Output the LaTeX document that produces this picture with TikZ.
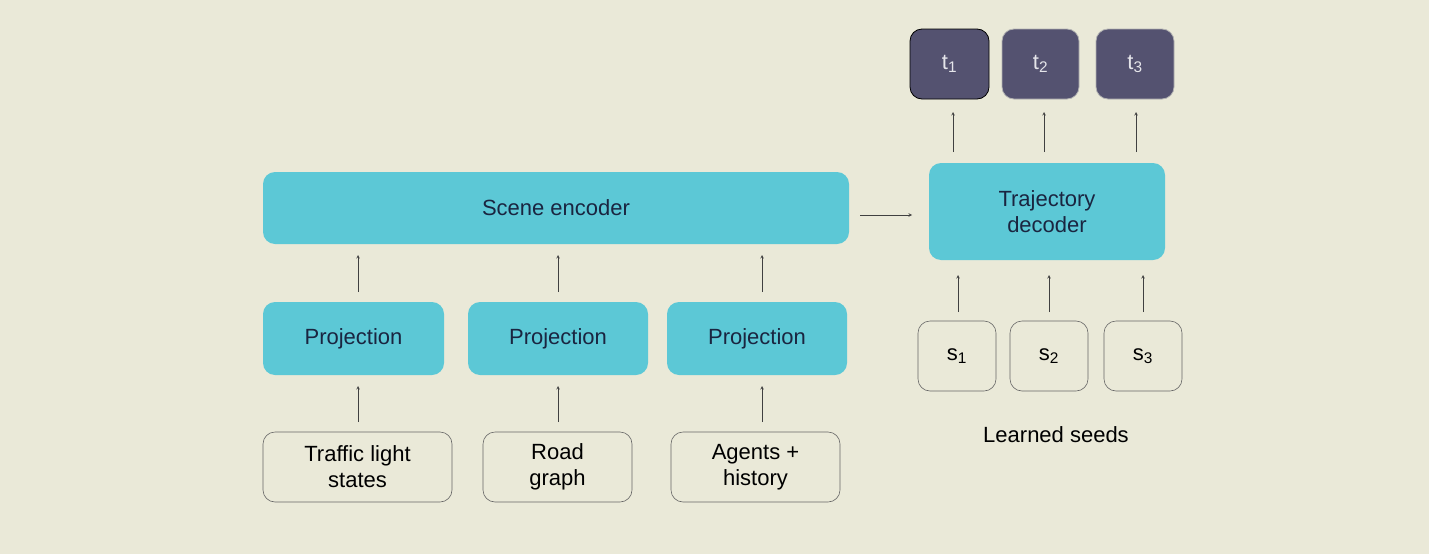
\documentclass[tikz,border=0pt]{standalone}
\usepackage{fontspec}
\setmainfont{Liberation Sans}
\begin{document}
\begin{tikzpicture}[x=1pt,y=-1pt,
 teal/.style={fill=tealc,draw=none,rounded corners=12pt,text=txt,font=\fontsize{22}{26}\selectfont,align=center},
 inp/.style={draw=gray!80!black,line width=0.6pt,rounded corners=12pt,fill=bgc,text=black,font=\fontsize{22}{26}\selectfont,align=center},
 dk/.style={fill=dkc,draw=gray!60,line width=0.8pt,rounded corners=12pt,text=white!85!dkc,font=\fontsize{22}{26}\selectfont},
 ar/.style={->,>=stealth,gray!50!black,line width=0.6pt}]
\definecolor{bgc}{HTML}{EAE9D8}
\definecolor{tealc}{HTML}{5CC8D6}
\definecolor{dkc}{HTML}{545270}
\definecolor{txt}{HTML}{1A2540}
\fill[bgc] (0,0) rectangle (1429,554);
\useasboundingbox (0,0) rectangle (1429,554);
\node[teal,minimum width=586,minimum height=72] (se) at (556,208) {Scene encoder};
\foreach \n/\x/\w in {1/353.5/181,2/558/180,3/757/180}
  \node[teal,minimum width=\w,minimum height=73] (p\n) at (\x,338.5) {Projection};
\node[inp,minimum width=189,minimum height=70] (i1) at (357.5,467) {Traffic light\\states};
\node[inp,minimum width=149,minimum height=70] (i2) at (557.5,467) {Road\\graph};
\node[inp,minimum width=169,minimum height=70] (i3) at (755.5,467) {Agents +\\history};
\foreach \n/\x in {1/358,2/558,3/762}{
  \coordinate (a\n) at (\x,422); \coordinate (b\n) at (\x,386);
  \coordinate (c\n) at (\x,292); \coordinate (d\n) at (\x,255);
  \draw[ar] (a\n)--(b\n); \draw[ar] (c\n)--(d\n);}
\node[teal,minimum width=236,minimum height=97] (td) at (1047,211.5) {Trajectory\\decoder};
\coordinate (h1) at (860,215); \coordinate (h2) at (912,215);
\draw[ar] (h1)--(h2);
\node[dk,minimum width=79,minimum height=70,draw=black] (t1) at (949.5,64) {t\textsubscript{1}};
\node[dk,minimum width=77,minimum height=70] (t2) at (1040.5,64) {t\textsubscript{2}};
\node[dk,minimum width=78,minimum height=70] (t3) at (1135,64) {t\textsubscript{3}};
\node[inp,minimum width=78,minimum height=70] (s1) at (957,356) {s\textsubscript{1}};
\node[inp,minimum width=78,minimum height=70] (s2) at (1049,356) {s\textsubscript{2}};
\node[inp,minimum width=78,minimum height=70] (s3) at (1143,356) {s\textsubscript{3}};
\foreach \n/\x/\y in {1/953/0,2/1044/0,3/1136/0}{
  \coordinate (u\n) at (\x,152); \coordinate (v\n) at (\x,112); \draw[ar] (u\n)--(v\n);}
\foreach \n/\x in {1/958,2/1049,3/1143}{
  \coordinate (m\n) at (\x,312); \coordinate (n\n) at (\x,275); \draw[ar] (m\n)--(n\n);}
\node[font=\fontsize{22}{26}\selectfont,text=black] (ls) at (1056,435) {Learned seeds};
\end{tikzpicture}
\end{document}
